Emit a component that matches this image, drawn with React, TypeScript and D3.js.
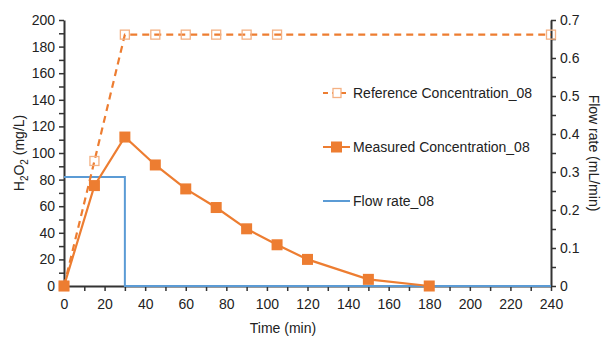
import React, { useEffect, useRef } from 'react';
import * as d3 from 'd3';

// time (min) / H2O2 (mg/L)
const refTime = [0, 15, 30, 45, 60, 75, 90, 105, 240];
const refConc = [0, 94, 189, 189, 189, 189, 189, 189, 189];

const measTime = [0, 15, 30, 45, 60, 75, 90, 105, 120, 150, 180];
const measConc = [0, 75.5, 112, 91, 73, 59, 43, 31, 20, 5, 0];

// time (min) / flow (mL/min)
const flowTime = [0, 30, 30, 240];
const flowRate = [0.287, 0.287, 0, 0];

const xTicks = d3.range(0, 241, 20);
const yTicks = d3.range(0, 201, 20);
const y2Ticks = [0, 0.1, 0.2, 0.3, 0.4, 0.5, 0.6, 0.7];

const legendLabels = ['Reference Concentration_08', 'Measured Concentration_08', 'Flow rate_08'];

const ORANGE = '#ED7D31';
const ORANGE_LIGHT = '#F4B183';
const BLUE = '#5B9BD5';
const AXIS = '#333';

const App = () => {
    const ref = useRef<SVGSVGElement>(null);

    useEffect(() => {
        const width = 604;
        const height = 342;
        const m = { top: 20, right: 53, bottom: 56, left: 64 };

        const svg = d3.select(ref.current);
        svg.selectAll('*').remove();
        svg.attr('width', width).attr('height', height)
            .style('font-family', 'Liberation Sans, Arial, sans-serif');

        const x = d3.scaleLinear().domain([0, 240]).range([m.left, width - m.right]);
        const y = d3.scaleLinear().domain([0, 200]).range([height - m.bottom, m.top]);
        const y2 = d3.scaleLinear().domain([0, 0.7]).range([height - m.bottom, m.top]);

        // axes
        const gx = svg.append('g')
            .attr('transform', `translate(0,${height - m.bottom})`)
            .call(d3.axisBottom(x).tickValues(d3.range(0, 241, 10)).tickSize(5).tickSizeOuter(0)
                .tickFormat((d) => (xTicks.includes(+d) ? String(d) : '')));
        const gy = svg.append('g')
            .attr('transform', `translate(${m.left},0)`)
            .call(d3.axisLeft(y).tickValues(d3.range(0, 201, 10)).tickSize(5).tickSizeOuter(0)
                .tickFormat((d) => (yTicks.includes(+d) ? String(d) : '')));
        const gy2 = svg.append('g')
            .attr('transform', `translate(${width - m.right},0)`)
            .call(d3.axisRight(y2).tickValues(d3.range(0, 0.701, 0.05)).tickSize(5).tickSizeOuter(0)
                .tickFormat((d) => {
                    const v = Math.round(+d * 100) / 100;
                    return y2Ticks.some((t) => Math.abs(t - v) < 1e-6) ? String(v) : '';
                }));

        [gx, gy, gy2].forEach((g) => {
            g.select('.domain').attr('stroke', AXIS).attr('stroke-width', 2);
            g.selectAll('.tick line').attr('stroke', AXIS).attr('stroke-width', 1.5);
            g.selectAll('.tick text').attr('fill', '#222').attr('font-size', 14)
                .style('font-family', 'Liberation Sans, Arial, sans-serif');
        });
        gx.selectAll('.tick text').attr('dy', '1.05em');
        gy.selectAll('.tick text').attr('x', -9);
        gy2.selectAll('.tick text').attr('x', 9);

        // flow rate
        const flowLine = d3.line<number>().x((_, i) => x(flowTime[i])).y((d) => y2(d));
        svg.append('path').datum(flowRate)
            .attr('d', flowLine).attr('fill', 'none')
            .attr('stroke', BLUE).attr('stroke-width', 2);

        // reference
        const refLine = d3.line<number>().x((_, i) => x(refTime[i])).y((d) => y(d));
        svg.append('path').datum(refConc)
            .attr('d', refLine).attr('fill', 'none')
            .attr('stroke', ORANGE).attr('stroke-width', 2.2).attr('stroke-dasharray', '7,5');
        svg.append('g').selectAll('rect').data(refConc).join('rect')
            .attr('x', (_, i) => x(refTime[i]) - 4.5).attr('y', (d) => y(d) - 4.5)
            .attr('width', 9).attr('height', 9)
            .attr('fill', 'none').attr('stroke', ORANGE_LIGHT).attr('stroke-width', 1.3);

        // measured
        const measLine = d3.line<number>().x((_, i) => x(measTime[i])).y((d) => y(d));
        svg.append('path').datum(measConc)
            .attr('d', measLine).attr('fill', 'none')
            .attr('stroke', ORANGE).attr('stroke-width', 2.2);
        svg.append('g').selectAll('rect').data(measConc).join('rect')
            .attr('x', (_, i) => x(measTime[i]) - 5.5).attr('y', (d) => y(d) - 5.5)
            .attr('width', 11).attr('height', 11).attr('fill', ORANGE);

        // legend
        const legend = svg.append('g').attr('transform', 'translate(323,93)');
        const items = legend.selectAll('g').data(legendLabels).join('g')
            .attr('transform', (_, i) => `translate(0,${i * 54})`);
        items.append('line')
            .attr('x1', 0).attr('x2', 27)
            .attr('stroke', (_, i) => (i === 2 ? BLUE : ORANGE))
            .attr('stroke-width', 2)
            .attr('stroke-dasharray', (_, i) => (i === 0 ? '5,4' : null));
        items.filter((_, i) => i === 0).append('rect')
            .attr('x', 10).attr('y', -4.5).attr('width', 8).attr('height', 9)
            .attr('fill', 'white').attr('stroke', ORANGE_LIGHT).attr('stroke-width', 1.3);
        items.filter((_, i) => i === 1).append('rect')
            .attr('x', 8).attr('y', -5.5).attr('width', 11).attr('height', 11).attr('fill', ORANGE);
        items.append('text')
            .attr('x', 30).attr('y', 5).attr('font-size', 14).attr('fill', '#222')
            .text((d) => d);

        // axis titles
        svg.append('text')
            .attr('x', 283).attr('y', 333).attr('text-anchor', 'middle')
            .attr('font-size', 14).attr('fill', '#222').text('Time (min)');

        const yt = svg.append('text')
            .attr('transform', `translate(24,${(m.top + height - m.bottom) / 2}) rotate(-90)`)
            .attr('text-anchor', 'middle').attr('font-size', 14).attr('fill', '#222');
        yt.append('tspan').text('H');
        yt.append('tspan').attr('font-size', 10).attr('dy', 4).text('2');
        yt.append('tspan').attr('dy', -4).text('O');
        yt.append('tspan').attr('font-size', 10).attr('dy', 4).text('2');
        yt.append('tspan').attr('dy', -4).text(' (mg/L)');

        svg.append('text')
            .attr('transform', `translate(589,${(m.top + height - m.bottom) / 2}) rotate(90)`)
            .attr('text-anchor', 'middle').attr('font-size', 14).attr('fill', '#222')
            .text('Flow rate (mL/min)');
    }, []);

    return <svg ref={ref} style={{ position: 'absolute', left: 0, top: 0 }} />;
};

export default App;
